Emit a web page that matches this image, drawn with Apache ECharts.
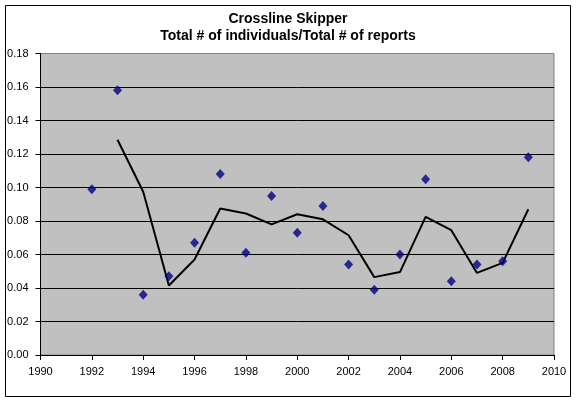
<!DOCTYPE html>
<html>
<head>
<meta charset="utf-8">
<script src="https://cdn.jsdelivr.net/npm/echarts@6/dist/echarts.min.js"></script>
<style>
html,body{margin:0;padding:0;background:#fff;}
#chart{width:576px;height:401px;}
</style>
</head>
<body>
<div id="chart"></div>
<script>
var titleLines = ["Crossline Skipper", "Total # of individuals/Total # of reports"];
var years = [1992,1993,1994,1995,1996,1997,1998,1999,2000,2001,2002,2003,2004,2005,2006,2007,2008,2009];
var ratios = [0.099,0.158,0.036,0.047,0.067,0.108,0.061,0.095,0.073,0.089,0.054,0.039,0.060,0.105,0.044,0.054,0.056,0.118];
var avgYears = [1993,1994,1995,1996,1997,1998,1999,2000,2001,2002,2003,2004,2005,2006,2007,2008,2009];
var avgValues = [0.1285,0.0975,0.0415,0.057,0.0875,0.0845,0.078,0.084,0.081,0.0715,0.0465,0.0495,0.0825,0.0745,0.049,0.055,0.087];
var xTicks = {min:1990, max:2010, step:2};
var yTicks = {min:0, max:0.18, step:0.02};

var chart = echarts.init(document.getElementById('chart'), null, {renderer:'canvas'});
var font = '"Liberation Sans", Arial, sans-serif';
chart.setOption({
  animation:false,
  backgroundColor:'#ffffff',
  title:{
    text: titleLines.join('\n'),
    left:'center',
    top:6,
    textStyle:{fontFamily:font, fontSize:14, fontWeight:'bold', color:'#000', lineHeight:17}
  },
  graphic:[{
    type:'rect',
    shape:{x:5.5, y:5.5, width:565, height:391},
    style:{fill:null, stroke:'#000', lineWidth:1},
    silent:true, z:-1
  }],
  grid:{
    left:40.5, right:22, top:53.5, bottom:46,
    show:true, backgroundColor:'#c0c0c0', borderColor:'#808080', borderWidth:1
  },
  xAxis:{
    type:'value', min:xTicks.min, max:xTicks.max, interval:xTicks.step,
    axisLine:{show:true, lineStyle:{color:'#000', width:1}},
    axisTick:{show:true, inside:false, length:5, lineStyle:{color:'#000'}},
    axisLabel:{fontFamily:font, fontSize:11, color:'#000', margin:11,
      formatter:function(v){return String(v);}},
    splitLine:{show:false}
  },
  yAxis:{
    type:'value', min:yTicks.min, max:yTicks.max, interval:yTicks.step,
    axisLine:{show:true, lineStyle:{color:'#000', width:1}},
    axisTick:{show:true, inside:false, length:5, lineStyle:{color:'#000'}},
    axisLabel:{fontFamily:font, fontSize:11, color:'#000', margin:12,
      formatter:function(v){return v.toFixed(2);}},
    splitLine:{show:true, showMaxLine:false, lineStyle:{color:'#000', width:1}}
  },
  series:[
    {
      type:'line',
      data: avgYears.map(function(y,i){return [y, avgValues[i]];}),
      showSymbol:false, symbol:'none',
      lineStyle:{color:'#000', width:2},
      z:2
    },
    {
      type:'scatter',
      data: years.map(function(y,i){return [y, ratios[i]];}),
      symbol:'diamond', symbolSize:[9,10],
      itemStyle:{color:'#000080'},
      z:3
    }
  ]
});
</script>
</body>
</html>
